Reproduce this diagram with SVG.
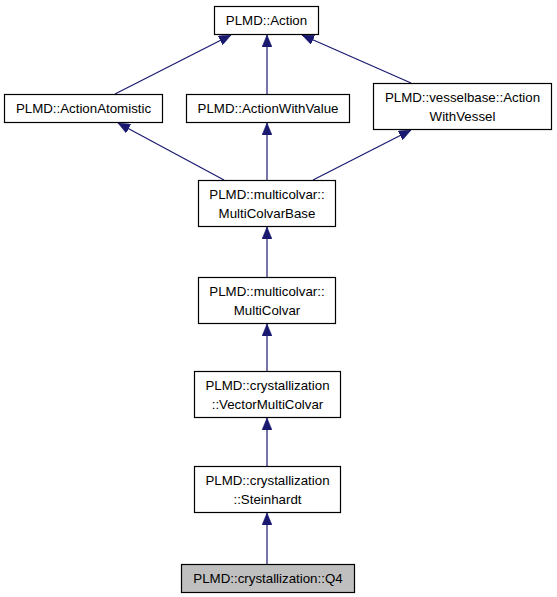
<svg xmlns="http://www.w3.org/2000/svg" width="557" height="597" viewBox="0 0 557 597">
<style>
.box{fill:#ffffff;stroke:#000000;stroke-width:1.2}
.cur{fill:#bfbfbf;stroke:#000000;stroke-width:1.2}
text{font-family:"Liberation Sans",Arial,sans-serif;font-size:13.3px;fill:#000000;text-anchor:middle}
.edge{stroke:#191970;stroke-width:1.2;fill:none}
</style>
<defs>
<marker id="arr" viewBox="0 0 12 10" refX="12" refY="5" markerWidth="12" markerHeight="10" markerUnits="userSpaceOnUse" orient="auto">
<path d="M0,0 L12,5 L0,10 z" fill="#191970" stroke="#191970" stroke-width="0.5"/>
</marker>
</defs>
<rect width="557" height="597" fill="#ffffff"/>
<g id="connectors">
<line class="edge" x1="115" y1="94" x2="231" y2="35" marker-end="url(#arr)"/>
<line class="edge" x1="267" y1="94" x2="267" y2="35" marker-end="url(#arr)"/>
<line class="edge" x1="411" y1="83" x2="302" y2="35" marker-end="url(#arr)"/>
<line class="edge" x1="224" y1="180" x2="118" y2="123" marker-end="url(#arr)"/>
<line class="edge" x1="267" y1="180" x2="267" y2="123" marker-end="url(#arr)"/>
<line class="edge" x1="313" y1="180" x2="411" y2="130" marker-end="url(#arr)"/>
<line class="edge" x1="267" y1="277" x2="267" y2="227" marker-end="url(#arr)"/>
<line class="edge" x1="267" y1="371" x2="267" y2="324" marker-end="url(#arr)"/>
<line class="edge" x1="267" y1="466" x2="267" y2="418" marker-end="url(#arr)"/>
<line class="edge" x1="267" y1="564" x2="267" y2="513" marker-end="url(#arr)"/>
</g>
<g id="node-action">
<rect class="box" x="214.5" y="6.5" width="104" height="28"/>
<text x="266.5" y="25">PLMD::Action</text>
</g>
<g id="node-actionatomistic">
<rect class="box" x="4.5" y="94.5" width="158" height="28"/>
<text x="83.5" y="113">PLMD::ActionAtomistic</text>
</g>
<g id="node-actionwithvalue">
<rect class="box" x="186.5" y="94.5" width="163" height="28"/>
<text x="268" y="113">PLMD::ActionWithValue</text>
</g>
<g id="node-actionwithvessel">
<rect class="box" x="373.5" y="83.5" width="178" height="46"/>
<text x="462.5" y="102">PLMD::vesselbase::Action</text>
<text x="462.5" y="121">WithVessel</text>
</g>
<g id="node-multicolvarbase">
<rect class="box" x="198.5" y="180.5" width="137" height="46"/>
<text x="267" y="199">PLMD::multicolvar::</text>
<text x="267" y="218">MultiColvarBase</text>
</g>
<g id="node-multicolvar">
<rect class="box" x="198.5" y="277.5" width="137" height="46"/>
<text x="267" y="296">PLMD::multicolvar::</text>
<text x="267" y="315">MultiColvar</text>
</g>
<g id="node-vectormulticolvar">
<rect class="box" x="194.5" y="371.5" width="146" height="46"/>
<text x="267.5" y="390">PLMD::crystallization</text>
<text x="267.5" y="409">::VectorMultiColvar</text>
</g>
<g id="node-steinhardt">
<rect class="box" x="194.5" y="466.5" width="146" height="46"/>
<text x="267.5" y="485">PLMD::crystallization</text>
<text x="267.5" y="504">::Steinhardt</text>
</g>
<g id="node-q4">
<rect class="cur" x="181.5" y="564.5" width="173" height="28"/>
<text x="268" y="583">PLMD::crystallization::Q4</text>
</g>
</svg>
